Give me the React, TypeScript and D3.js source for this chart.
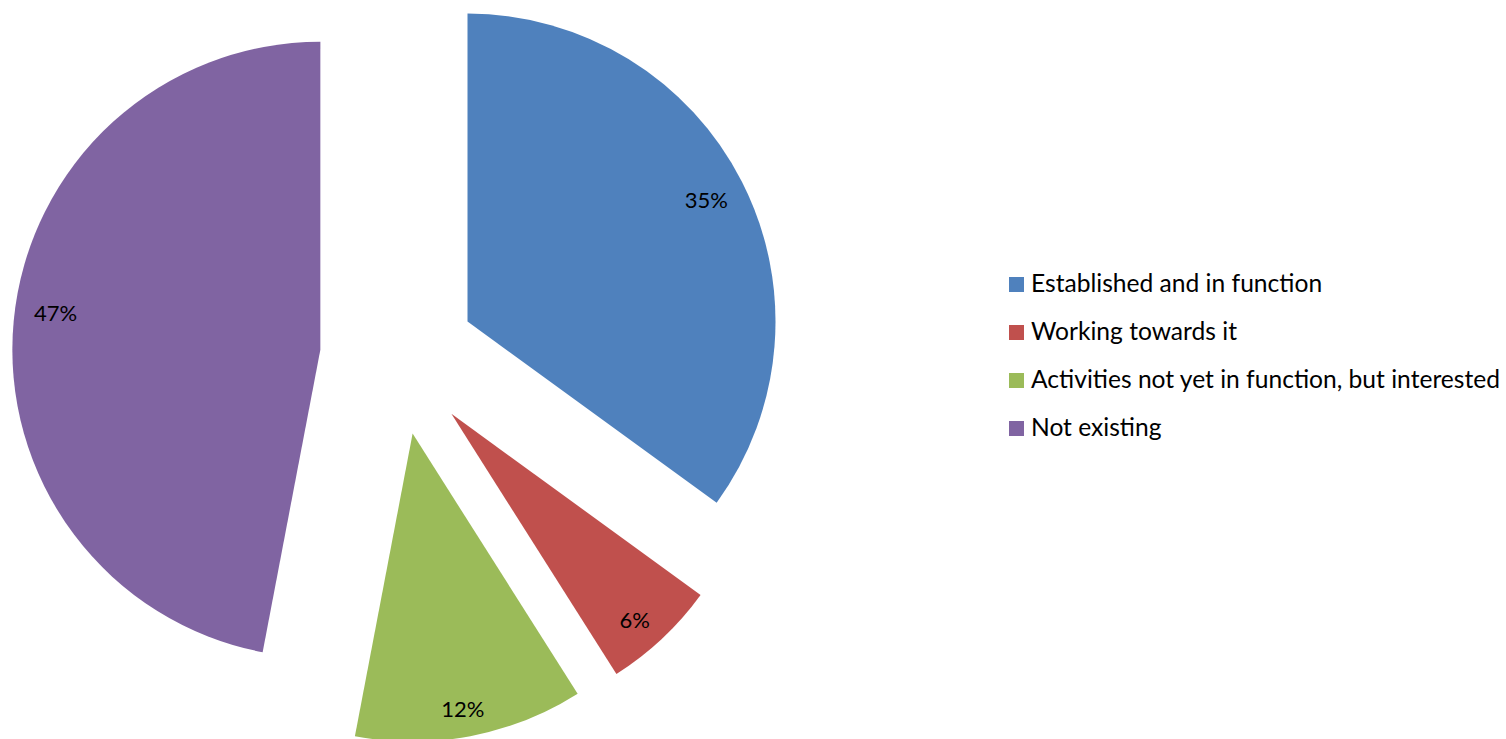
import React from "react";
import * as d3 from "d3";

const categories = [
  "Established and in function",
  "Working towards it",
  "Activities not yet in function, but interested",
  "Not existing",
];
const values = [35, 6, 12, 47];
const colors = ["#4F81BD", "#C0504D", "#9BBB59", "#8064A2"];
const labelNudge: [number, number][] = [
  [0, 0],
  [0, 10],
  [0, 12],
  [2, -12],
];

const W = 1506;
const H = 739;
const cx = 398;
const cy = 357;
const R = 308;
const explode = 78;
const FONT = "Lato, 'Open Sans', sans-serif";

export default function App() {
  const pie = d3.pie<number>().sort(null).value((d) => d);
  const arcs = pie(values);
  const arcGen = d3.arc<d3.PieArcDatum<number>>().innerRadius(0).outerRadius(R);
  const total = d3.sum(values);
  const fmt = (v: number) => `${Math.round((v / total) * 100)}%`;

  return (
    <svg
      width={W}
      height={H}
      style={{ position: "absolute", left: 0, top: 0, background: "#fff" }}
    >
      {arcs.map((a, i) => {
        const mid = (a.startAngle + a.endAngle) / 2;
        const ox = cx + explode * Math.sin(mid);
        const oy = cy - explode * Math.cos(mid);
        const lr = R * 0.87;
        const lx = lr * Math.sin(mid) + labelNudge[i][0];
        const ly = -lr * Math.cos(mid) + labelNudge[i][1];
        return (
          <g key={i} transform={`translate(${ox},${oy})`}>
            <path d={arcGen(a) || ""} fill={colors[i]} />
            <text
              x={lx}
              y={ly}
              textAnchor="middle"
              dominantBaseline="central"
              fontFamily={FONT}
              fontSize={22}
              fill="#000"
            >
              {fmt(a.data)}
            </text>
          </g>
        );
      })}
      <g transform="translate(1009,277)">
        {categories.map((c, i) => (
          <g key={c} transform={`translate(0,${i * 48})`}>
            <rect x={0} y={0} width={15} height={15} fill={colors[i]} />
            <text
              x={22}
              y={15}
              fontFamily={FONT}
              fontSize={24.6}
              fill="#000"
            >
              {c}
            </text>
          </g>
        ))}
      </g>
    </svg>
  );
}
